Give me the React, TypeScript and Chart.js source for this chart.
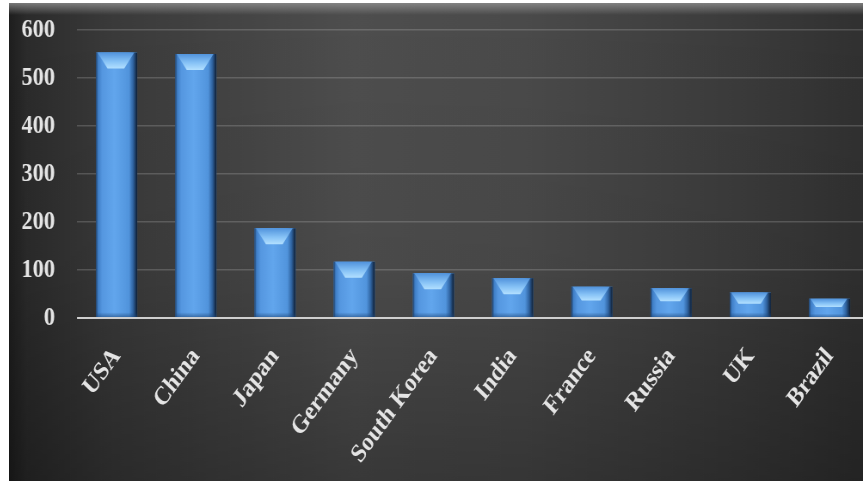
import React, { useEffect, useRef } from "react";
import { Chart, registerables } from "chart.js";

Chart.register(...registerables);

const countries = ["USA", "China", "Japan", "Germany", "South Korea", "India", "France", "Russia", "UK", "Brazil"];
const values = [553, 550, 187, 117, 93, 83, 65, 62, 53, 40];
const yMin = 0;
const yMax = 600;
const yStep = 100;

// horizontal compression of the whole picture (the reference looks squeezed)
const SX = 0.86;
const CANVAS_W = Math.round(862 / SX);
const CANVAS_H = 478;

const bgPlugin = {
  id: "bgPlugin",
  beforeDraw(chart: any) {
    const { ctx, width, height } = chart;
    ctx.save();
    const g = ctx.createLinearGradient(0, 0, width, 0);
    g.addColorStop(0, "#1e1e1e");
    g.addColorStop(0.02, "#2b2b2b");
    g.addColorStop(0.12, "#3a3a3a");
    g.addColorStop(0.4, "#4e4e4e");
    g.addColorStop(0.6, "#4a4a4a");
    g.addColorStop(0.85, "#3b3b3b");
    g.addColorStop(1, "#303030");
    ctx.fillStyle = g;
    ctx.fillRect(0, 0, width, height);
    const v = ctx.createLinearGradient(0, 0, 0, height);
    v.addColorStop(0, "rgba(0,0,0,0)");
    v.addColorStop(0.55, "rgba(0,0,0,0.05)");
    v.addColorStop(1, "rgba(0,0,0,0.28)");
    ctx.fillStyle = v;
    ctx.fillRect(0, 0, width, height);
    const t = ctx.createLinearGradient(0, 0, 0, 12);
    t.addColorStop(0, "rgba(150,150,150,0.75)");
    t.addColorStop(1, "rgba(150,150,150,0)");
    ctx.fillStyle = t;
    ctx.fillRect(0, 0, width, 12);
    ctx.restore();
  },
};

const bevelPlugin = {
  id: "bevelPlugin",
  afterDatasetsDraw(chart: any) {
    const { ctx, chartArea } = chart;
    const meta = chart.getDatasetMeta(0);
    ctx.save();
    meta.data.forEach((el: any) => {
      const { x, y, base, width } = el.getProps(["x", "y", "base", "width"], true);
      const l = x - width / 2;
      const r = x + width / 2;
      const h = base - y;
      const e = 1 / SX;
      // body
      const g = ctx.createLinearGradient(l, 0, r, 0);
      g.addColorStop(0, "#1c3a60");
      g.addColorStop(0.05, "#3f7ec6");
      g.addColorStop(0.15, "#5597e0");
      g.addColorStop(0.45, "#62a6ed");
      g.addColorStop(0.8, "#5194dc");
      g.addColorStop(0.9, "#2f63a0");
      g.addColorStop(1, "#0e1c30");
      ctx.fillStyle = g;
      ctx.fillRect(l, y, width, h);
      // top bevel
      const b = Math.min(16, h * 0.45);
      const s = Math.min(10, b * 0.65) * e;
      const tg = ctx.createLinearGradient(0, y, 0, y + b);
      tg.addColorStop(0, "#5193dc");
      tg.addColorStop(0.55, "#86c2f6");
      tg.addColorStop(1, "#b3e0ff");
      ctx.fillStyle = tg;
      ctx.beginPath();
      ctx.moveTo(l + 1.5 * e, y);
      ctx.lineTo(r - 3 * e, y);
      ctx.lineTo(r - 3 * e - s, y + b);
      ctx.lineTo(l + 1.5 * e + s, y + b);
      ctx.closePath();
      ctx.fill();
      // bottom bevel
      const bb = Math.min(5, h * 0.2);
      const bg = ctx.createLinearGradient(0, base - bb, 0, base);
      bg.addColorStop(0, "rgba(30,70,120,0)");
      bg.addColorStop(1, "rgba(30,70,120,0.6)");
      ctx.fillStyle = bg;
      ctx.fillRect(l, base - bb, width, bb);
    });
    // baseline
    const y0 = chart.scales.y.getPixelForValue(0);
    ctx.strokeStyle = "#cfcfcf";
    ctx.lineWidth = 2;
    ctx.beginPath();
    ctx.moveTo(chartArea.left, y0);
    ctx.lineTo(chartArea.right, y0);
    ctx.stroke();
    ctx.restore();
  },
};

const labelFont = { family: "'Liberation Serif', 'Times New Roman', serif", size: 26, weight: "bold" as const };

export default function App() {
  const ref = useRef<HTMLCanvasElement | null>(null);
  useEffect(() => {
    if (!ref.current) return;
    const chart = new Chart(ref.current, {
      type: "bar",
      data: {
        labels: countries,
        datasets: [
          {
            data: values,
            backgroundColor: "#5a9fe6",
            borderWidth: 0,
            categoryPercentage: 1,
            barPercentage: 0.52,
          },
        ],
      },
      options: {
        responsive: false,
        animation: false,
        devicePixelRatio: 1,
        layout: { padding: { top: 27, right: 0, left: 0, bottom: 0 } },
        plugins: { legend: { display: false }, tooltip: { enabled: false } },
        scales: {
          x: {
            grid: { display: false, drawTicks: false },
            border: { display: false },
            ticks: {
              color: "#e4e4e4",
              font: labelFont,
              minRotation: 50,
              maxRotation: 50,
              padding: 24,
            },
            afterFit: (s: any) => {
              s.height = 163;
            },
          },
          y: {
            min: yMin,
            max: yMax,
            grid: {
              color: (c: any) => (c.tick && c.tick.value === 0 ? "rgba(0,0,0,0)" : "rgba(255,255,255,0.17)"),
              lineWidth: 1.5,
              drawTicks: false,
            },
            border: { display: false },
            ticks: {
              stepSize: yStep,
              color: "#e4e4e4",
              font: labelFont,
              padding: 22 / SX,
            },
            afterFit: (s: any) => {
              s.width = 68 / SX;
              s.paddingTop = 0;
              s.paddingBottom = 0;
            },
          },
        },
      },
      plugins: [bgPlugin, bevelPlugin],
    });
    return () => chart.destroy();
  }, []);
  return (
    <div style={{ position: "absolute", left: 9, top: 3, width: 854, height: 478, overflow: "hidden" }}>
      <canvas
        ref={ref}
        width={CANVAS_W}
        height={CANVAS_H}
        style={{ display: "block", transform: `scaleX(${SX})`, transformOrigin: "0 0" }}
      />
    </div>
  );
}
